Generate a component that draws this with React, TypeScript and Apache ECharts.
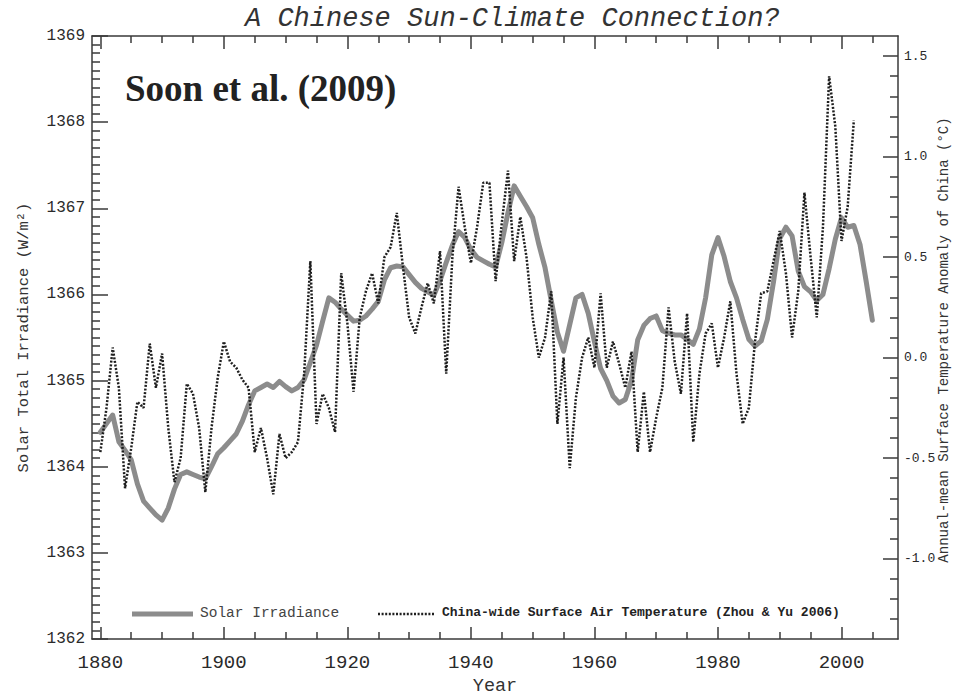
import React, { useEffect, useRef } from "react";
import * as echarts from "echarts";

// ---------------- data ----------------
const solarStartYear = 1880;
const solarIrradiance = [
  1364.40, 1364.50, 1364.60, 1364.29, 1364.19, 1364.08, 1363.80, 1363.60, 1363.52, 1363.44,
  1363.38, 1363.52, 1363.74, 1363.91, 1363.94, 1363.91, 1363.88, 1363.86, 1364.00, 1364.15,
  1364.22, 1364.30, 1364.38, 1364.53, 1364.72, 1364.88, 1364.92, 1364.96, 1364.92, 1364.99,
  1364.93, 1364.88, 1364.92, 1365.01, 1365.21, 1365.41, 1365.69, 1365.96, 1365.91, 1365.83,
  1365.76, 1365.69, 1365.70, 1365.75, 1365.83, 1365.92, 1366.17, 1366.31, 1366.33, 1366.32,
  1366.23, 1366.14, 1366.07, 1366.03, 1365.99, 1366.16, 1366.37, 1366.57, 1366.73, 1366.66,
  1366.52, 1366.43, 1366.39, 1366.35, 1366.32, 1366.60, 1366.95, 1367.26, 1367.14, 1367.02,
  1366.89, 1366.58, 1366.31, 1365.93, 1365.56, 1365.34, 1365.65, 1365.96, 1366.00, 1365.78,
  1365.45, 1365.14, 1365.00, 1364.82, 1364.74, 1364.78, 1365.00, 1365.47, 1365.64, 1365.72,
  1365.75, 1365.58, 1365.55, 1365.53, 1365.53, 1365.48, 1365.42, 1365.60, 1365.96, 1366.46,
  1366.66, 1366.44, 1366.15, 1365.96, 1365.71, 1365.48, 1365.40, 1365.46, 1365.71, 1366.15,
  1366.65, 1366.78, 1366.68, 1366.27, 1366.09, 1366.03, 1365.93, 1366.00, 1366.30, 1366.64,
  1366.89, 1366.78, 1366.80, 1366.58, 1366.15, 1365.70,
];

const tempStartYear = 1880;
const tempAnomaly = [
  -0.47, -0.25, 0.05, -0.15, -0.65, -0.45, -0.22, -0.25, 0.07, -0.15,
  0.02, -0.35, -0.62, -0.50, -0.13, -0.18, -0.35, -0.67, -0.35, -0.10,
  0.08, -0.02, -0.05, -0.11, -0.15, -0.47, -0.35, -0.50, -0.68, -0.38,
  -0.50, -0.47, -0.42, -0.08, 0.48, -0.33, -0.18, -0.25, -0.37, 0.42,
  0.17, -0.17, 0.20, 0.33, 0.42, 0.27, 0.50, 0.55, 0.72, 0.45,
  0.20, 0.12, 0.25, 0.37, 0.27, 0.53, -0.08, 0.50, 0.85, 0.65,
  0.47, 0.65, 0.87, 0.87, 0.38, 0.67, 0.93, 0.48, 0.70, 0.50,
  0.20, 0.00, 0.10, 0.33, -0.33, 0.00, -0.55, -0.20, 0.00, 0.10,
  -0.05, 0.32, -0.05, 0.08, -0.03, -0.15, 0.03, -0.47, -0.17, -0.47,
  -0.30, -0.15, 0.25, -0.02, -0.18, 0.22, -0.42, -0.08, 0.12, 0.17,
  -0.05, 0.10, 0.28, -0.08, -0.33, -0.25, 0.08, 0.32, 0.33, 0.48,
  0.63, 0.42, 0.10, 0.33, 0.82, 0.50, 0.20, 0.65, 1.40, 1.15,
  0.58, 0.75, 1.18,
];

const yearMajorTicks = [1880, 1900, 1920, 1940, 1960, 1980, 2000];
const yearMinorTicks = [
  1885, 1890, 1895, 1905, 1910, 1915, 1925, 1930, 1935, 1945, 1950, 1955,
  1965, 1970, 1975, 1985, 1990, 1995, 2005,
];
const tempMajorTicks = [-1.0, -0.5, 0.0, 0.5, 1.0, 1.5];
const tempMinorTicks = [
  -1.3, -1.2, -1.1, -0.9, -0.8, -0.7, -0.6, -0.4, -0.3, -0.2, -0.1,
  0.1, 0.2, 0.3, 0.4, 0.6, 0.7, 0.8, 0.9, 1.1, 1.2, 1.3, 1.4,
];

const titleText = "A Chinese Sun-Climate Connection?";
const authorText = "Soon et al. (2009)";
const solarName = "Solar Irradiance";
const tempName = "China-wide Surface Air Temperature (Zhou & Yu 2006)";
const rightAxisName = "Annual-mean Surface Temperature Anomaly of China (°C)";

// ---------------- chart ----------------
const MONO = "'Liberation Mono', 'DejaVu Sans Mono', monospace";
const SERIF = "'Liberation Serif', 'DejaVu Serif', serif";
const AX = "#3a3a3a";
const XMIN = 1878.65;
const XMAX = 2009.15;

export default function App() {
  const ref = useRef<HTMLDivElement>(null);

  useEffect(() => {
    if (!ref.current) return;
    const chart = echarts.init(ref.current, undefined, { renderer: "svg" });

    const solarData = solarIrradiance.map((v, i) => [solarStartYear + i, v]);
    const tempData = tempAnomaly.map((v, i) => [tempStartYear + i, v]);

    const lineStyle = { color: AX, width: 1.5 };
    const plain = (v: number) => String(Math.round(v));

    const option: any = {
      animation: false,
      backgroundColor: "#ffffff",
      grid: {
        left: 92,
        right: 58,
        top: 36,
        bottom: 57,
        containLabel: false,
        outerBoundsMode: "none",
      },
      xAxis: [
        {
          type: "value",
          position: "bottom",
          min: XMIN,
          max: XMAX,
          axisLine: { show: true, onZero: false, lineStyle },
          axisTick: { show: true, inside: true, length: 12, customValues: yearMajorTicks, lineStyle },
          axisLabel: {
            show: true,
            customValues: yearMajorTicks,
            formatter: plain,
            margin: 14,
            fontFamily: MONO,
            fontSize: 19,
            color: "#2a2a2a",
          },
          splitLine: { show: false },
          name: "Year",
          nameLocation: "middle",
          nameGap: 37,
          nameTextStyle: { fontFamily: MONO, fontSize: 18.5, color: "#333" },
        },
        {
          type: "value",
          position: "bottom",
          min: XMIN,
          max: XMAX,
          axisLine: { show: false, onZero: false },
          axisTick: { show: true, inside: true, length: 7, customValues: yearMinorTicks, lineStyle },
          axisLabel: { show: false },
          splitLine: { show: false },
        },
        {
          type: "value",
          position: "top",
          min: XMIN,
          max: XMAX,
          axisLine: { show: true, onZero: false, lineStyle },
          axisTick: { show: true, inside: true, length: 13, customValues: yearMajorTicks, lineStyle },
          axisLabel: { show: false },
          splitLine: { show: false },
        },
        {
          type: "value",
          position: "top",
          min: XMIN,
          max: XMAX,
          axisLine: { show: false, onZero: false },
          axisTick: { show: true, inside: true, length: 7, customValues: yearMinorTicks, lineStyle },
          axisLabel: { show: false },
          splitLine: { show: false },
        },
      ],
      yAxis: [
        {
          type: "value",
          position: "left",
          min: 1362,
          max: 1369,
          interval: 1,
          axisLine: { show: true, onZero: false, lineStyle },
          axisTick: { show: true, inside: true, length: 16, lineStyle },
          minorTick: { show: true, splitNumber: 10, length: 8, lineStyle },
          axisLabel: { margin: 7, formatter: plain, fontFamily: MONO, fontSize: 16, color: "#2a2a2a" },
          splitLine: { show: false },
          minorSplitLine: { show: false },
          name: "Solar Total Irradiance (W/m²)",
          nameLocation: "middle",
          nameRotate: 90,
          nameGap: 60,
          nameTextStyle: { fontFamily: MONO, fontSize: 15.5, color: "#333" },
        },
        {
          type: "value",
          position: "right",
          min: -1.4,
          max: 1.6,
          axisLine: { show: true, onZero: false, lineStyle },
          axisTick: { show: true, inside: true, length: 15, customValues: tempMajorTicks, lineStyle },
          axisLabel: {
            show: true,
            customValues: tempMajorTicks,
            margin: 6,
            fontFamily: MONO,
            fontSize: 13,
            color: "#2a2a2a",
            formatter: (v: number) => v.toFixed(1),
          },
          splitLine: { show: false },
        },
        {
          type: "value",
          position: "right",
          min: -1.4,
          max: 1.6,
          axisLine: { show: false, onZero: false },
          axisTick: { show: true, inside: true, length: 8, customValues: tempMinorTicks, lineStyle },
          axisLabel: { show: false },
          splitLine: { show: false },
        },
      ],
      series: [
        {
          name: solarName,
          type: "line",
          xAxisIndex: 0,
          yAxisIndex: 0,
          data: solarData,
          symbol: "none",
          showSymbol: false,
          silent: true,
          z: 2,
          lineStyle: { color: "#8c8c8c", width: 5, join: "round", cap: "round" },
        },
        {
          name: tempName,
          type: "line",
          xAxisIndex: 0,
          yAxisIndex: 1,
          data: tempData,
          symbol: "none",
          showSymbol: false,
          silent: true,
          z: 3,
          lineStyle: { color: "#1e1e1e", width: 2.5, type: [2, 1.6] },
        },
      ],
      graphic: [
        {
          type: "text",
          left: 245,
          top: 5,
          silent: true,
          style: {
            text: titleText,
            fontFamily: MONO,
            fontStyle: "italic",
            fontSize: 27,
            fill: "#333",
          },
        },
        {
          type: "text",
          x: 944,
          y: 340,
          rotation: Math.PI / 2,
          silent: true,
          style: {
            text: rightAxisName,
            align: "center",
            verticalAlign: "middle",
            fontFamily: MONO,
            fontSize: 14,
            fill: "#333",
          },
        },
        {
          type: "text",
          left: 125,
          top: 70,
          silent: true,
          style: {
            text: authorText,
            fontFamily: SERIF,
            fontWeight: "bold",
            fontSize: 37,
            fill: "#222",
          },
        },
        {
          type: "line",
          silent: true,
          shape: { x1: 132, y1: 614, x2: 193, y2: 614 },
          style: { stroke: "#8c8c8c", lineWidth: 5 },
        },
        {
          type: "text",
          left: 200,
          top: 605,
          silent: true,
          style: { text: solarName, fontFamily: MONO, fontSize: 14.5, fill: "#444" },
        },
        {
          type: "line",
          silent: true,
          shape: { x1: 378, y1: 614, x2: 435, y2: 614 },
          style: { stroke: "#1e1e1e", lineWidth: 2.5, lineDash: [2, 1.6] },
        },
        {
          type: "text",
          left: 442,
          top: 606,
          silent: true,
          style: {
            text: tempName,
            fontFamily: MONO,
            fontWeight: "bold",
            fontSize: 13,
            fill: "#222",
          },
        },
      ],
    };

    chart.setOption(option);
    return () => {
      chart.dispose();
    };
  }, []);

  return (
    <div
      ref={ref}
      style={{ position: "fixed", left: 0, top: 0, width: 956, height: 696, background: "#fff" }}
    />
  );
}
